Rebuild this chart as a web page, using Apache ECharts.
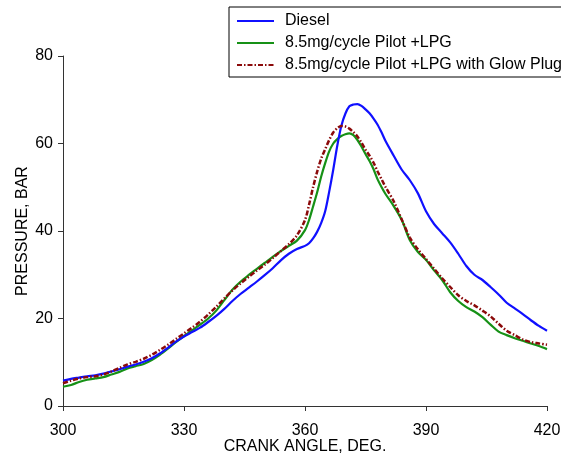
<!DOCTYPE html>
<html>
<head>
<meta charset="utf-8">
<script src="https://cdn.jsdelivr.net/npm/echarts@6/dist/echarts.min.js"></script>
<style>
html,body{margin:0;padding:0;background:#fff;}
#chart{width:561px;height:457px;}
</style>
</head>
<body>
<div id="chart"></div>
<script>
const seriesNames = ["Diesel", "8.5mg/cycle Pilot +LPG", "8.5mg/cycle Pilot +LPG with Glow Plug"];
const xTicks = [300, 330, 360, 390, 420];
const yTicks = [0, 20, 40, 60, 80];
const angles = [300,302,304,306,308,310,312,314,316,318,320,322,324,326,328,330,332,334,336,338,340,342,344,346,348,350,352,354,356,358,
  360,361,362,363,364,365,366,367,368,369,370,371,372,373,374,375,376,377,378,379,380,
  382,384,386,388,390,392,394,396,398,400,402,404,406,408,410,412,414,416,418,420];
const diesel = [5.8,6.2,6.5,6.8,7.0,7.4,7.9,8.4,9.0,9.5,10.1,10.9,12.0,13.3,14.7,15.9,16.9,17.9,19.2,20.6,22.2,24.0,25.6,27.0,28.4,29.9,31.5,33.3,34.8,35.9,
  36.6,37.2,38.3,39.8,41.8,44.5,49.0,54.0,59.5,64.0,66.8,68.5,68.9,69.0,68.6,67.8,66.9,65.7,64.3,62.5,60.5,
  57.2,54.0,51.6,48.6,44.5,41.6,39.5,37.4,34.8,32.0,30.0,28.8,27.2,25.5,23.6,22.3,21.0,19.6,18.3,17.2];
const lpg = [4.4,4.8,5.5,6.0,6.3,6.6,7.2,7.8,8.6,9.1,9.6,10.5,11.7,13.1,14.6,16.0,17.3,18.6,20.0,21.8,24.2,26.6,28.4,29.9,31.3,32.7,34.1,35.4,36.6,37.8,
  40.2,42.5,45.6,48.8,52.4,55.5,58.2,60.0,61.0,61.7,62.1,62.3,61.9,60.8,59.3,57.6,56.0,54.1,51.8,50.0,48.4,
  45.7,42.5,37.9,35.2,33.4,31.0,28.8,26.0,24.0,22.6,21.6,20.3,18.6,17.0,16.2,15.5,14.9,14.3,13.7,13.0];
const glowPlug = [5.2,5.8,6.3,6.6,6.8,7.2,7.9,8.7,9.5,10.1,10.8,11.7,12.8,14.0,15.3,16.6,17.9,19.3,20.9,22.7,24.6,26.4,28.0,29.5,30.9,32.3,33.8,35.4,37.0,39.0,
  42.5,46.0,50.0,53.5,56.5,58.7,60.8,62.5,63.5,64.0,63.9,63.4,62.6,61.6,60.2,58.6,57.2,55.6,53.6,51.8,50.0,
  46.8,42.6,38.5,35.8,33.6,31.4,29.2,27.2,25.3,24.0,23.0,21.8,20.5,18.8,17.2,16.2,15.2,14.6,14.3,14.0];

function pairs(ys){ return angles.map((a,i)=>[a, ys[i]]); }

const chart = echarts.init(document.getElementById('chart'), null, {renderer:'canvas'});
const font = 'Liberation Sans, Arial, sans-serif';
chart.setOption({
  animation: false,
  backgroundColor: '#fff',
  textStyle: {fontFamily: font},
  grid: {left: 63, right: 14, top: 56, bottom: 51, containLabel: false, outerBoundsMode: 'none'},
  legend: {
    orient: 'vertical',
    left: 229,
    top: 7,
    padding: [6, 40, 4, 7],
    itemWidth: 37,
    itemHeight: 14,
    itemGap: 6,
    borderColor: '#000',
    borderWidth: 1,
    backgroundColor: '#fff',
    itemStyle: {opacity: 0, borderWidth: 0},
    textStyle: {fontFamily: font, fontSize: 16, color: '#000', padding: [0,0,0,6]},
    data: seriesNames
  },
  xAxis: {
    type: 'value',
    min: xTicks[0], max: xTicks[xTicks.length-1], interval: 30,
    name: 'CRANK ANGLE, DEG.', nameLocation: 'middle', nameGap: 33, nameMoveOverlap: false,
    nameTextStyle: {fontFamily: font, fontSize: 16, color: '#000'},
    axisLine: {onZero: false, lineStyle: {color: '#333', width: 1}},
    axisTick: {length: 5, lineStyle: {color: '#333'}},
    axisLabel: {fontFamily: font, fontSize: 16, color: '#000', margin: 17},
    splitLine: {show: false}
  },
  yAxis: {
    type: 'value',
    min: yTicks[0], max: yTicks[yTicks.length-1], interval: 20,
    name: 'PRESSURE, BAR', nameLocation: 'middle', nameGap: 32, nameMoveOverlap: false,
    nameTextStyle: {fontFamily: font, fontSize: 16, color: '#000'},
    axisLine: {show: true, lineStyle: {color: '#333', width: 1}},
    axisTick: {show: true, length: 5, lineStyle: {color: '#333'}},
    axisLabel: {fontFamily: font, fontSize: 16, color: '#000', margin: 10},
    splitLine: {show: false}
  },
  series: [
    {name: seriesNames[0], type: 'line', data: pairs(diesel), symbol: 'none', smooth: 0.3,
     lineStyle: {color: '#1010ff', width: 2.2}, itemStyle: {color: '#1010ff'}, z: 3},
    {name: seriesNames[1], type: 'line', data: pairs(lpg), symbol: 'none', smooth: 0.3,
     lineStyle: {color: '#169116', width: 2.2}, itemStyle: {color: '#169116'}, z: 2},
    {name: seriesNames[2], type: 'line', data: pairs(glowPlug), symbol: 'none', smooth: 0.3,
     lineStyle: {color: '#8b0a0a', width: 2.5, type: [5, 2, 1.5, 2]}, itemStyle: {color: '#8b0a0a'}, z: 4}
  ]
});
</script>
</body>
</html>
